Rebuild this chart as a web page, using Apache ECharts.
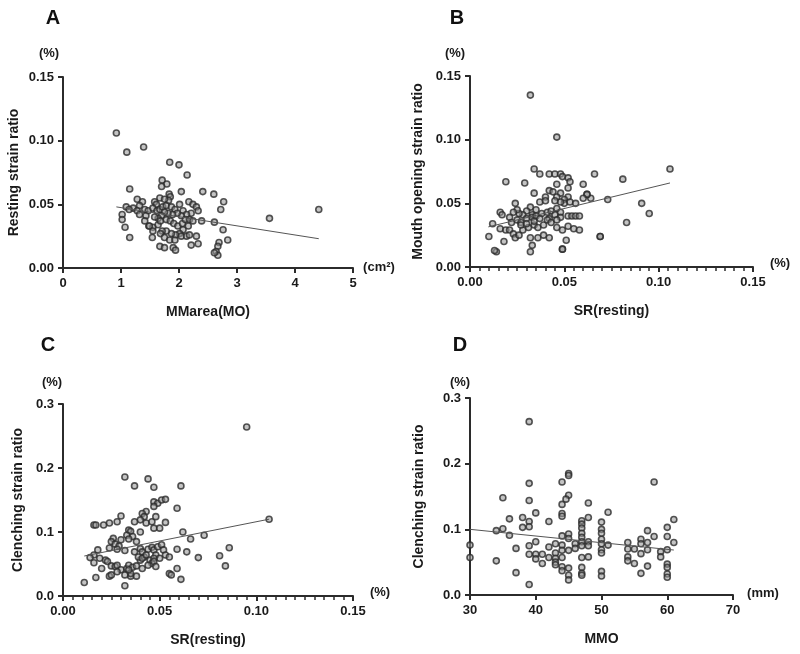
<!DOCTYPE html>
<html>
<head>
<meta charset="utf-8">
<script src="https://cdn.jsdelivr.net/npm/echarts@6/dist/echarts.min.js"></script>
<style>
  html, body { margin: 0; padding: 0; background: #fff; }
  #chart { width: 800px; height: 654px; }
</style>
</head>
<body>
<div id="chart"></div>
<script>
// Panel A: MMarea(MO) vs Resting strain ratio
const pointsA = [
  [0.92,0.106],[1.10,0.091],[1.39,0.095],[1.84,0.083],[2.00,0.081],[2.14,0.073],[1.71,0.069],[1.79,0.066],
  [1.70,0.064],[1.15,0.062],[2.41,0.060],[2.60,0.058],[2.04,0.060],[2.77,0.052],[2.72,0.046],[1.83,0.058],
  [1.85,0.056],[1.82,0.053],[1.67,0.055],[1.58,0.052],[1.61,0.050],[1.75,0.054],[1.28,0.054],[1.37,0.052],
  [1.32,0.049],[1.41,0.046],[1.21,0.047],[1.09,0.048],[1.14,0.046],[1.47,0.045],[1.55,0.047],[1.62,0.045],
  [1.67,0.046],[1.72,0.048],[1.78,0.049],[1.87,0.048],[1.93,0.046],[2.01,0.050],[2.07,0.045],[2.17,0.052],
  [2.24,0.050],[2.30,0.048],[2.33,0.045],[2.21,0.043],[2.13,0.042],[2.04,0.041],[1.97,0.043],[1.89,0.042],
  [1.81,0.043],[1.75,0.044],[1.70,0.041],[1.64,0.039],[1.58,0.040],[2.39,0.037],[2.61,0.036],[1.02,0.042],
  [1.02,0.038],[1.07,0.032],[1.15,0.024],[1.54,0.024],[1.48,0.033],[1.55,0.032],[1.64,0.034],[1.68,0.037],
  [1.78,0.038],[1.85,0.037],[1.91,0.035],[1.98,0.033],[2.06,0.035],[2.11,0.038],[2.18,0.038],[2.24,0.037],
  [2.16,0.033],[2.07,0.030],[2.01,0.027],[1.94,0.026],[1.87,0.027],[1.78,0.029],[1.71,0.029],[1.68,0.027],
  [1.75,0.024],[1.84,0.022],[1.93,0.022],[2.04,0.025],[2.13,0.025],[2.18,0.026],[2.30,0.025],[2.21,0.018],
  [2.33,0.019],[1.67,0.017],[1.75,0.016],[1.90,0.016],[1.94,0.014],[2.76,0.030],[2.84,0.022],[2.69,0.020],
  [2.67,0.017],[2.64,0.013],[2.67,0.010],[2.61,0.012],[1.28,0.045],[1.32,0.042],[1.43,0.041],[1.41,0.037],
  [1.49,0.033],[1.55,0.029],[3.56,0.039],[4.41,0.046]
];
const fitA = [[0.92,0.048],[4.41,0.023]];

// Panel B: SR(resting) vs Mouth opening strain ratio
const pointsB = [
  [0.032,0.135],[0.046,0.102],[0.106,0.077],[0.081,0.069],[0.091,0.050],[0.095,0.042],[0.083,0.035],[0.069,0.024],
  [0.073,0.053],[0.066,0.073],[0.064,0.054],[0.060,0.065],[0.062,0.057],[0.049,0.014],[0.032,0.012],[0.033,0.017],
  [0.014,0.012],[0.010,0.024],[0.018,0.020],[0.019,0.067],[0.029,0.066],[0.034,0.077],[0.037,0.073],
  [0.042,0.073],[0.045,0.073],[0.048,0.073],[0.049,0.071],[0.052,0.070],[0.053,0.067],[0.046,0.065],[0.052,0.062],
  [0.042,0.060],[0.044,0.059],[0.048,0.058],[0.046,0.055],[0.034,0.058],[0.040,0.055],[0.037,0.051],[0.040,0.052],
  [0.062,0.057],[0.060,0.054],[0.052,0.055],[0.050,0.053],[0.050,0.050],[0.053,0.051],[0.056,0.050],[0.048,0.051],
  [0.045,0.052],[0.024,0.050],[0.032,0.047],[0.035,0.045],[0.030,0.044],[0.033,0.041],[0.028,0.041],[0.026,0.042],
  [0.025,0.045],[0.023,0.043],[0.016,0.043],[0.017,0.041],[0.021,0.039],[0.022,0.035],[0.025,0.037],[0.027,0.035],
  [0.030,0.038],[0.033,0.039],[0.035,0.040],[0.038,0.042],[0.041,0.043],[0.043,0.044],[0.046,0.046],[0.048,0.043],
  [0.045,0.041],[0.042,0.038],[0.048,0.039],[0.052,0.040],[0.054,0.040],[0.056,0.040],[0.058,0.040],[0.012,0.034],
  [0.016,0.030],[0.019,0.029],[0.021,0.029],[0.023,0.026],[0.024,0.023],[0.026,0.025],[0.028,0.029],[0.031,0.031],
  [0.034,0.033],[0.036,0.031],[0.039,0.033],[0.041,0.037],[0.043,0.035],[0.046,0.037],[0.027,0.033],[0.030,0.034],
  [0.034,0.036],[0.037,0.038],[0.032,0.023],[0.036,0.023],[0.039,0.025],[0.042,0.023],[0.046,0.031],[0.049,0.029],
  [0.052,0.032],[0.055,0.030],[0.058,0.029],[0.051,0.021],[0.049,0.014],[0.013,0.013],[0.069,0.024]
];
const fitB = [[0.0097,0.0315],[0.106,0.066]];

// Panel C: SR(resting) vs Clenching strain ratio
const pointsC = [
  [0.095,0.264],[0.1066,0.120],[0.086,0.0755],[0.081,0.063],[0.084,0.047],[0.073,0.095],[0.070,0.060],[0.066,0.089],
  [0.064,0.069],[0.062,0.100],[0.061,0.026],[0.061,0.172],[0.059,0.137],[0.059,0.073],[0.032,0.186],[0.037,0.172],
  [0.044,0.183],[0.047,0.170],[0.047,0.147],[0.049,0.145],[0.051,0.150],[0.053,0.151],[0.047,0.140],
  [0.043,0.132],[0.041,0.129],[0.042,0.124],[0.040,0.119],[0.037,0.116],[0.043,0.114],[0.046,0.116],[0.048,0.124],
  [0.053,0.115],[0.047,0.106],[0.050,0.106],[0.030,0.125],[0.028,0.116],[0.024,0.114],[0.021,0.111],[0.016,0.111],
  [0.017,0.111],[0.034,0.103],[0.035,0.101],[0.033,0.095],[0.036,0.093],[0.034,0.089],[0.038,0.085],[0.040,0.100],
  [0.026,0.090],[0.025,0.085],[0.027,0.081],[0.030,0.088],[0.029,0.078],[0.028,0.073],[0.024,0.075],[0.032,0.071],
  [0.018,0.072],[0.016,0.064],[0.014,0.060],[0.019,0.059],[0.022,0.056],[0.023,0.054],[0.025,0.047],[0.027,0.046],
  [0.028,0.048],[0.030,0.041],[0.033,0.043],[0.034,0.048],[0.036,0.045],[0.038,0.047],[0.040,0.056],[0.042,0.061],
  [0.044,0.073],[0.046,0.076],[0.047,0.072],[0.049,0.077],[0.051,0.080],[0.052,0.072],[0.053,0.064],[0.055,0.061],
  [0.048,0.064],[0.050,0.059],[0.037,0.069],[0.040,0.074],[0.041,0.069],[0.039,0.061],[0.041,0.059],[0.043,0.064],
  [0.045,0.056],[0.047,0.059],[0.046,0.051],[0.044,0.048],[0.047,0.054],[0.016,0.052],[0.020,0.043],[0.024,0.031],
  [0.025,0.033],[0.017,0.029],[0.011,0.021],[0.032,0.016],[0.035,0.031],[0.038,0.031],[0.035,0.035],[0.032,0.033],
  [0.034,0.041],[0.028,0.038],[0.055,0.035],[0.056,0.033],[0.059,0.043],[0.048,0.046],[0.041,0.043]
];
const fitC = [[0.011,0.0625],[0.1066,0.120]];

// Panel D: MMO vs Clenching strain ratio
const pointsD = [
  [30,0.076],[30,0.057],[34,0.098],[34,0.052],[35,0.148],[35,0.101],[36,0.116],[36,0.091],[37,0.071],[37,0.034],
  [38,0.118],[38,0.103],[39,0.264],[39,0.170],[39,0.144],[39,0.112],[39,0.104],[39,0.075],[39,0.062],[39,0.016],
  [40,0.125],[40,0.081],[40,0.062],[40,0.055],[41,0.062],[41,0.048],[42,0.112],[42,0.073],[42,0.057],
  [43,0.078],[43,0.064],[43,0.056],[43,0.050],[43,0.046],[44,0.172],[44,0.138],[44,0.124],[44,0.120],[44,0.090],
  [44,0.076],[44,0.068],[44,0.057],[44,0.043],[44,0.037],[45,0.185],[45,0.182],[45,0.152],[44.6,0.146],[45,0.093],
  [45,0.086],[45,0.068],[45,0.041],[45,0.030],[45,0.023],[46,0.078],[46,0.071],[47,0.113],[47,0.108],[47,0.102],
  [47,0.094],[47,0.088],[47,0.081],[47,0.075],[47,0.057],[47,0.042],[47,0.033],[47,0.030],[48,0.140],[48,0.118],
  [48,0.081],[48,0.075],[48,0.058],[50,0.111],[50,0.100],[50,0.094],[50,0.085],[50,0.078],[50,0.069],[50,0.064],
  [50,0.036],[50,0.029],[51,0.126],[51,0.076],[54,0.080],[54,0.070],[54,0.058],[54,0.052],[55,0.070],[55,0.048],
  [56,0.085],[56,0.078],[56,0.063],[56,0.033],[57,0.098],[57,0.080],[57,0.069],[57,0.044],[58,0.172],[58,0.089],
  [59,0.066],[59,0.058],[60,0.103],[60,0.089],[60,0.069],[60,0.047],[60,0.042],[60,0.032],[60,0.027],[61,0.115],
  [61,0.080]
];
const fitD = [[30,0.100],[61,0.0685]];

const panelLetters = ['A', 'B', 'C', 'D'];
const yNames = ['Resting strain ratio', 'Mouth opening strain ratio', 'Clenching strain ratio', 'Clenching strain ratio'];
const xNames = ['MMarea(MO)', 'SR(resting)', 'SR(resting)', 'MMO'];
const xUnits = ['(cm²)', '(%)', '(%)', '(mm)'];

const chart = echarts.init(document.getElementById('chart'));

const ink = '#2b2b2b';
const font = 'Liberation Sans, Arial, sans-serif';

const grids = [
  { left: 63, top: 77, width: 290, height: 191 },
  { left: 470, top: 76, width: 283, height: 191 },
  { left: 63, top: 404, width: 290, height: 192 },
  { left: 470, top: 398, width: 263, height: 197 }
];

const xRanges = [
  { min: 0, max: 5, interval: 1, dec: 0, minor: false },
  { min: 0, max: 0.15, interval: 0.05, dec: 2, minor: true },
  { min: 0, max: 0.15, interval: 0.05, dec: 2, minor: true },
  { min: 30, max: 70, interval: 10, dec: 0, minor: false }
];
const yRanges = [
  { max: 0.15, interval: 0.05, dec: 2, gap: 42 },
  { max: 0.15, interval: 0.05, dec: 2, gap: 45 },
  { max: 0.3, interval: 0.1, dec: 1, gap: 38 },
  { max: 0.3, interval: 0.1, dec: 1, gap: 44 }
];

const axisCommon = {
  axisLine: { show: true, lineStyle: { color: ink, width: 2 } },
  axisTick: { show: true, length: 5, lineStyle: { color: ink, width: 2 } },
  splitLine: { show: false },
  axisLabel: { color: '#1a1a1a', fontWeight: 'bold', fontSize: 13, fontFamily: font },
  nameTextStyle: { color: '#1a1a1a', fontWeight: 'bold', fontSize: 14, fontFamily: font }
};

const xAxis = xRanges.map((r, i) => ({
  ...axisCommon,
  type: 'value', gridIndex: i,
  min: r.min, max: r.max, interval: r.interval,
  name: xNames[i], nameLocation: 'middle', nameGap: 37,
  axisLabel: { ...axisCommon.axisLabel, margin: 9, formatter: v => v.toFixed(r.dec) },
  minorTick: { show: r.minor, splitNumber: 10, length: 4, lineStyle: { color: ink, width: 1.5 } }
}));

const yAxis = yRanges.map((r, i) => ({
  ...axisCommon,
  type: 'value', gridIndex: i,
  min: 0, max: r.max, interval: r.interval,
  name: yNames[i], nameLocation: 'middle', nameGap: r.gap, nameRotate: 90,
  axisLabel: { ...axisCommon.axisLabel, margin: 9, formatter: v => v.toFixed(r.dec) }
}));

const allPoints = [pointsA, pointsB, pointsC, pointsD];
const allFits = [fitA, fitB, fitC, fitD];

const series = [];
allPoints.forEach((pts, i) => {
  series.push({
    type: 'scatter', xAxisIndex: i, yAxisIndex: i,
    data: pts, symbolSize: 6, clip: false,
    itemStyle: { color: 'rgba(150,150,150,0.7)', borderColor: '#2a2a2a', borderWidth: 1.6 },
    silent: true
  });
  series.push({
    type: 'line', xAxisIndex: i, yAxisIndex: i,
    data: allFits[i], symbol: 'none',
    lineStyle: { color: '#555', width: 1 },
    silent: true
  });
});

const unitPos = [
  { pct: [49, 53], unit: [379, 267] },
  { pct: [455, 53], unit: [780, 263] },
  { pct: [52, 382], unit: [380, 592] },
  { pct: [460, 382], unit: [763, 593] }
];
const letterPos = [[53, 18], [457, 18], [48, 345], [460, 345]];

const graphic = [];
unitPos.forEach((p, i) => {
  graphic.push({ type: 'text', x: p.pct[0], y: p.pct[1],
    style: { text: '(%)', fill: '#1a1a1a', font: 'bold 13px ' + font, align: 'center', verticalAlign: 'middle' } });
  graphic.push({ type: 'text', x: p.unit[0], y: p.unit[1],
    style: { text: xUnits[i], fill: '#1a1a1a', font: 'bold 13px ' + font, align: 'center', verticalAlign: 'middle' } });
  graphic.push({ type: 'text', x: letterPos[i][0], y: letterPos[i][1],
    style: { text: panelLetters[i], fill: '#111', font: 'bold 20px ' + font, align: 'center', verticalAlign: 'middle' } });
});

chart.setOption({
  animation: false,
  backgroundColor: '#fff',
  grid: grids,
  xAxis: xAxis,
  yAxis: yAxis,
  series: series,
  graphic: graphic
});
</script>
</body>
</html>
